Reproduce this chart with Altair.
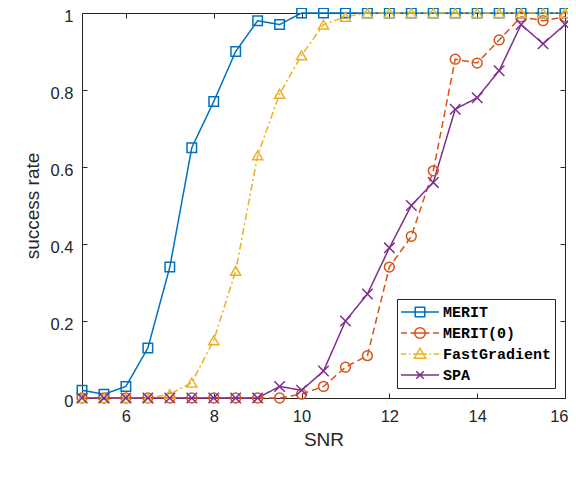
import altair as alt
import pandas as pd

snr = [5, 5.5, 6, 6.5, 7, 7.5, 8, 8.5, 9, 9.5, 10, 10.5, 11, 11.5, 12, 12.5,
       13, 13.5, 14, 14.5, 15, 15.5, 16]
merit = [0.02, 0.01, 0.03, 0.13, 0.34, 0.65, 0.77, 0.90, 0.98, 0.97, 1.0, 1.0,
         1.0, 1.0, 1.0, 1.0, 1.0, 1.0, 1.0, 1.0, 1.0, 1.0, 1.0]
merit0 = [0, 0, 0, 0, 0, 0, 0, 0, 0, 0, 0.01, 0.03, 0.08, 0.11, 0.34, 0.42,
          0.59, 0.88, 0.87, 0.93, 0.99, 0.98, 0.99]
fastgrad = [0, 0, 0, 0, 0.01, 0.04, 0.15, 0.33, 0.63, 0.79, 0.89, 0.97, 0.99,
            1.0, 1.0, 1.0, 1.0, 1.0, 1.0, 1.0, 1.0, 1.0, 1.0]
spa = [0, 0, 0, 0, 0, 0, 0, 0, 0, 0.03, 0.02, 0.07, 0.20, 0.27, 0.39, 0.50,
       0.56, 0.75, 0.78, 0.85, 0.97, 0.92, 0.97]

series_names = ["MERIT", "MERIT(0)", "FastGradient", "SPA"]
colors = ["#0072BD", "#D95319", "#EDB120", "#7E2F8E"]
dashes = [[1, 0], [7, 4], [7, 3, 2, 3], [1, 0]]
marker_shapes = ["square", "circle", "triangle-up", "M-1,-1L1,1M-1,1L1,-1"]
marker_sizes = [90, 110, 130, 60]
legend_shapes = [
    "M-1,0H1M-0.25,-0.25H0.25V0.25H-0.25Z",
    "M-1,0H-0.68M-0.5,0H0.5M0.68,0H1M0.28,0A0.28,0.28,0,1,1,-0.28,0A0.28,0.28,0,1,1,0.28,0",
    "M-1,0H-0.72M-0.58,0H-0.5M-0.36,0H0.36M0.5,0H0.58M0.72,0H1M0,-0.3L0.3,0.22H-0.3Z",
    "M-1,0H1M-0.2,-0.2L0.2,0.2M-0.2,0.2L0.2,-0.2",
]

rows = []
for name, vals in zip(series_names, [merit, merit0, fastgrad, spa]):
    for x, y in zip(snr, vals):
        rows.append({"snr": x, "rate": y, "series": name})
df = pd.DataFrame(rows)

x_ticks = [6, 8, 10, 12, 14, 16]
y_ticks = [0, 0.2, 0.4, 0.6, 0.8, 1]
axis_col = "#262626"
font = "Liberation Sans"

xscale = alt.Scale(domain=[5, 16], nice=False, zero=False)
yscale = alt.Scale(domain=[0, 1], nice=False)
color_scale = alt.Scale(domain=series_names, range=colors)

base = alt.Chart(df)

lines = base.mark_line(strokeWidth=1.5).encode(
    x=alt.X("snr:Q", scale=xscale, axis=alt.Axis(
        orient="bottom", values=x_ticks, tickSize=5, offset=-5, domain=False,
        grid=False, labelPadding=10, labelFlush=5, labelFlushOffset=3,
        title="SNR", titlePadding=6)),
    y=alt.Y("rate:Q", scale=yscale, axis=alt.Axis(
        orient="left", values=y_ticks, format="~g", tickSize=5, offset=-5,
        domain=False, grid=False, labelPadding=9, labelFlush=False,
        labelOffset=3.5, title="success rate", titlePadding=8)),
    color=alt.Color("series:N", scale=color_scale, legend=None),
    strokeDash=alt.StrokeDash("series:N", scale=alt.Scale(domain=series_names, range=dashes), legend=None),
    detail="series:N",
)

points = base.mark_point(filled=False, strokeWidth=1.5, opacity=1).encode(
    x=alt.X("snr:Q", scale=xscale, axis=alt.Axis(
        orient="top", values=x_ticks, tickSize=5, offset=-5, domain=False,
        grid=False, labels=False, title=None)),
    y=alt.Y("rate:Q", scale=yscale, axis=alt.Axis(
        orient="right", values=y_ticks, tickSize=5, offset=-5, domain=False,
        grid=False, labels=False, title=None)),
    color=alt.Color("series:N", scale=color_scale, legend=None),
    shape=alt.Shape("series:N", scale=alt.Scale(domain=series_names, range=marker_shapes), legend=None),
    size=alt.Size("series:N", scale=alt.Scale(domain=series_names, range=marker_sizes), legend=None),
)

legend_layer = base.mark_point(filled=False, opacity=0, size=1444).encode(
    x=alt.X("snr:Q", scale=xscale, axis=None),
    y=alt.Y("rate:Q", scale=yscale, axis=None),
    color=alt.Color("series:N", scale=color_scale, legend=alt.Legend(
        title=None, orient="bottom-right", offset=10)),
    shape=alt.Shape("series:N", scale=alt.Scale(domain=series_names, range=legend_shapes), legend=alt.Legend(
        title=None, orient="bottom-right", offset=10)),
)

chart = alt.layer(lines, points, legend_layer).resolve_scale(
    color="independent", shape="independent", size="independent"
).resolve_axis(
    x="independent", y="independent"
).properties(
    width=483, height=385, autosize="none",
    padding={"left": 74, "top": 5, "right": 3, "bottom": 70},
).configure_view(
    stroke=axis_col, strokeWidth=1
).configure_axis(
    labelFont=font, labelFontSize=16.5, labelColor=axis_col,
    titleFont=font, titleFontSize=19, titleFontWeight="normal", titleColor=axis_col,
    tickColor=axis_col, tickWidth=1,
).configure_legend(
    symbolSize=1444, symbolStrokeWidth=1.5, symbolOpacity=1,
    labelFont="Liberation Mono", labelFontSize=15, labelFontWeight="bold",
    labelColor="black",
    strokeColor=axis_col, fillColor="white", padding=3, clipHeight=20,
    rowPadding=1, labelOffset=3, cornerRadius=0,
)

chart.save("out.html", embed_options={"renderer": "svg", "actions": False})
